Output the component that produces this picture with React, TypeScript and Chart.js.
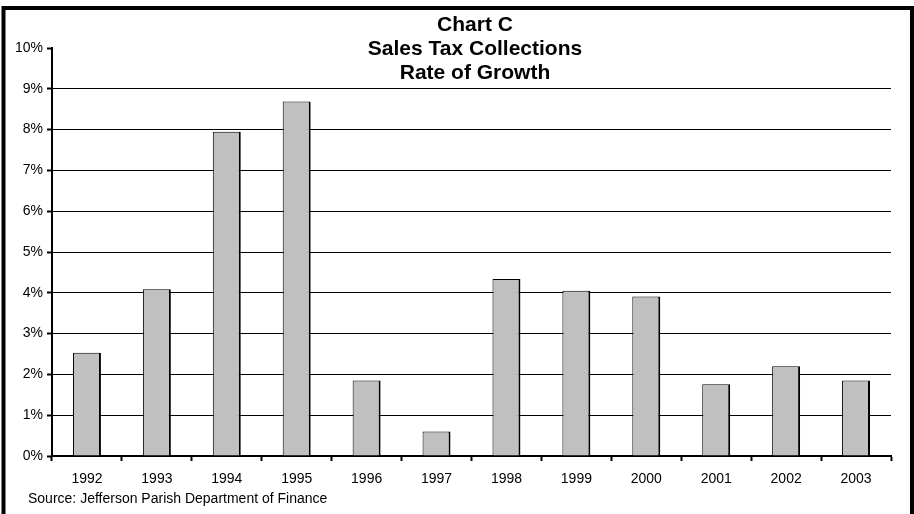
import React, { useEffect, useRef } from "react";
import { Chart, registerables } from "chart.js";

Chart.register(...registerables);

const years = ["1992", "1993", "1994", "1995", "1996", "1997", "1998", "1999", "2000", "2001", "2002", "2003"];
const growthPct = [2.53, 4.09, 7.95, 8.69, 1.85, 0.6, 4.34, 4.05, 3.91, 1.76, 2.2, 1.85];
const titleLines = ["Chart C", "Sales Tax Collections", "Rate of Growth"];
const sourceNote = "Source: Jefferson Parish Department of Finance";
const yMin = 0;
const yMax = 10;
const yStep = 1;

const FONT = "'Liberation Sans', Arial, Helvetica, sans-serif";

export default function App() {
  const ref = useRef<HTMLCanvasElement | null>(null);

  useEffect(() => {
    document.body.style.margin = "0";
    const canvas = ref.current;
    if (!canvas) return;

    const decor = {
      id: "decor",
      beforeDraw(chart: any) {
        const c = chart.ctx;
        c.save();
        c.fillStyle = "#ffffff";
        c.fillRect(0, 0, chart.width, chart.height);
        c.restore();
      },
      afterDraw(chart: any) {
        const c = chart.ctx;
        c.save();
        c.fillStyle = "#000";
        c.textAlign = "center";
        c.textBaseline = "alphabetic";
        c.font = `bold 21px ${FONT}`;
        const baselines = [31, 55, 79];
        titleLines.forEach((t, i) => c.fillText(t, 475, baselines[i]));
        c.textAlign = "left";
        c.font = `14px ${FONT}`;
        c.fillText(sourceNote, 28, 503);
        c.strokeStyle = "#000";
        c.lineWidth = 4;
        c.strokeRect(3.5, 8, 908.5, 520);
        c.restore();
      },
    };

    const chart = new Chart(canvas, {
      type: "bar",
      data: {
        labels: years,
        datasets: [
          {
            data: growthPct,
            backgroundColor: "#c0c0c0",
            borderColor: "#000",
            borderWidth: { top: 1, left: 1, right: 2, bottom: 0 } as any,
            barPercentage: 0.4,
            categoryPercentage: 1,
          },
        ],
      },
      options: {
        responsive: false,
        animation: false,
        devicePixelRatio: 1,
        layout: { padding: { top: 48, right: 23, left: 0, bottom: 0 } },
        plugins: {
          legend: { display: false },
          tooltip: { enabled: false },
          title: { display: false },
        },
        scales: {
          x: {
            offset: true,
            grid: {
              offset: true,
              drawOnChartArea: false,
              drawTicks: true,
              tickLength: 5,
              tickColor: "#000",
              tickWidth: 2,
            },
            border: { color: "#000", width: 2 },
            ticks: {
              color: "#000",
              font: { family: FONT, size: 14 },
              padding: 10,
              maxRotation: 0,
              autoSkip: false,
            },
            afterFit: (s: any) => {
              s.height = 58;
            },
          },
          y: {
            min: yMin,
            max: yMax,
            ticks: {
              stepSize: yStep,
              callback: (v: any) => `${v}%`,
              color: "#000",
              font: { family: FONT, size: 14 },
              padding: 4,
            },
            grid: {
              color: (ctx: any) => (ctx.tick && ctx.tick.value === yMax ? "rgba(0,0,0,0)" : "#000"),
              lineWidth: 1,
              drawTicks: true,
              tickLength: 5,
              tickColor: "#000",
              tickWidth: 2,
            },
            border: { color: "#000", width: 2 },
            afterFit: (s: any) => {
              s.width = 52;
            },
          },
        },
      },
      plugins: [decor],
    });

    return () => chart.destroy();
  }, []);

  return <canvas ref={ref} width={914} height={514} style={{ display: "block" }} />;
}
